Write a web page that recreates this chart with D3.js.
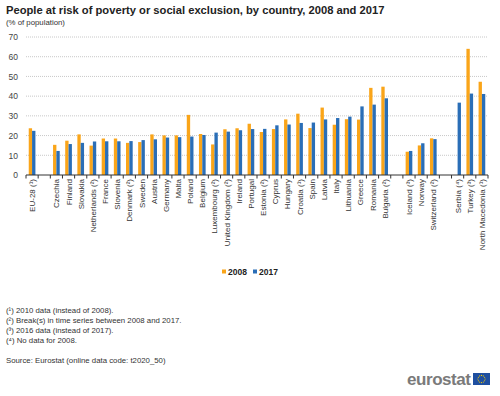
<!DOCTYPE html>
<html>
<head>
<meta charset="utf-8">
<script src="https://cdn.jsdelivr.net/npm/d3@7"></script>
<style>
  body { margin: 0; background: #fff; }
  svg { font-family: Arial, "Liberation Sans", sans-serif; display: block; }
  .grid line { stroke: #c8c8c8; stroke-dasharray: 1,1; }
  .axis--y .domain { display: none; }
  .axis--y .tick line { display: none; }
  .axis text { fill: #444; }
</style>
</head>
<body>
<svg width="500" height="396"></svg>
<script>
// categories (gaps are empty slots)
const countries = ['EU-28 (¹)', 'gap1', 'Czechia', 'Finland', 'Slovakia', 'Netherlands (²)', 'France', 'Slovenia',
  'Denmark (²)', 'Sweden', 'Austria', 'Germany', 'Malta', 'Poland', 'Belgium', 'Luxembourg (²)',
  'United Kingdom (²)', 'Ireland', 'Portugal', 'Estonia (²)', 'Cyprus', 'Hungary', 'Croatia (¹)', 'Spain',
  'Latvia', 'Italy', 'Lithuania', 'Greece', 'Romania', 'Bulgaria (²)', 'gap2', 'Iceland (³)', 'Norway',
  'Switzerland (²)', 'gap3', 'Serbia (⁴)', 'Turkey (³)', 'North Macedonia (¹)'];

const values2008 = [23.7, null, 15.3, 17.4, 20.6, 14.9, 18.5, 18.5,
  16.3, 16.7, 20.6, 20.1, 20.1, 30.5, 20.8, 15.5,
  23.2, 23.7, 26.0, 21.8, 23.3, 28.2, 31.1, 23.8,
  34.2, 25.5, 28.3, 28.1, 44.2, 44.8, null, 11.8, 15.0,
  18.6, null, null, 64.0, 47.3];

const values2017 = [22.4, null, 12.2, 15.7, 16.3, 17.0, 17.1, 17.1,
  17.2, 17.7, 18.1, 19.0, 19.2, 19.5, 20.3, 21.5,
  22.0, 22.7, 23.3, 23.4, 25.2, 25.6, 26.4, 26.6,
  28.2, 28.9, 29.6, 34.8, 35.7, 38.9, null, 12.2, 16.1,
  18.2, null, 36.7, 41.3, 41.1];

const seriesNames = ['2008', '2017'];
const colors = { '2008': '#faa519', '2017': '#2a6eb7' };
const yTicks = [0, 10, 20, 30, 40, 50, 60, 70];

const footnotes = [
  '(¹) 2010 data (instead of 2008).',
  '(²) Break(s) in time series between 2008 and 2017.',
  '(³) 2016 data (instead of 2017).',
  '(⁴) No data for 2008.'
];
const source = 'Source: Eurostat (online data code: t2020_50)';

const svg = d3.select('svg');
const margin = { top: 37, left: 26, right: 12, bottom: 221 };
const width = 500 - margin.left - margin.right;
const height = 396 - margin.top - margin.bottom;

svg.append('text')
  .attr('x', 6).attr('y', 14)
  .attr('font-size', 11.2).attr('font-weight', 'bold').attr('fill', '#222')
  .text('People at risk of poverty or social exclusion, by country, 2008 and 2017');
svg.append('text')
  .attr('x', 6).attr('y', 24.5)
  .attr('font-size', 7.8).attr('fill', '#333')
  .text('(% of population)');

const g = svg.append('g')
  .attr('transform', 'translate(' + margin.left + ',' + margin.top + ')');

const x = d3.scaleBand().domain(countries).range([0, width]).padding(0);
const x1 = d3.scaleBand().domain(seriesNames).range([0, x.bandwidth()]).paddingInner(0).paddingOuter(0.82);
const y = d3.scaleLinear().domain([0, 70]).range([height, 0]);

// grid
g.append('g').attr('class', 'grid')
  .selectAll('line')
  .data(yTicks.filter(d => d > 0))
  .enter().append('line')
  .attr('x1', 0).attr('x2', width)
  .attr('y1', d => y(d)).attr('y2', d => y(d));

g.append('g')
  .attr('class', 'axis axis--y')
  .call(d3.axisLeft(y).tickValues(yTicks).tickSize(0).tickPadding(8))
  .selectAll('text').attr('font-size', 8.5).attr('font-family', 'Arial, "Liberation Sans", sans-serif');

// bars
const data = countries.map((c, i) => ({ c: c, v: { '2008': values2008[i], '2017': values2017[i] } }));
const groups = g.selectAll('.group')
  .data(data)
  .enter().append('g')
  .attr('transform', d => 'translate(' + x(d.c) + ',0)');

groups.selectAll('rect')
  .data(d => seriesNames.filter(s => d.v[s] != null).map(s => ({ s: s, v: d.v[s] })))
  .enter().append('rect')
  .attr('x', d => x1(d.s))
  .attr('y', d => y(d.v))
  .attr('width', x1.bandwidth())
  .attr('height', d => height - y(d.v))
  .attr('fill', d => colors[d.s]);

// x axis with ticks at slot boundaries
const xa = g.append('g').attr('transform', 'translate(0,' + height + ')');
xa.append('line').attr('x1', 0).attr('x2', width).attr('stroke', '#333');
xa.selectAll('.tk')
  .data(d3.range(countries.length + 1))
  .enter().append('line')
  .attr('x1', i => i * x.step()).attr('x2', i => i * x.step())
  .attr('y1', 0).attr('y2', 3.5).attr('stroke', '#333');
xa.selectAll('.lbl')
  .data(countries.filter(c => !c.startsWith('gap')))
  .enter().append('text')
  .attr('transform', d => 'translate(' + (x(d) + x.bandwidth() / 2 + 3) + ',4) rotate(-90)')
  .attr('text-anchor', 'end')
  .attr('font-size', 8).attr('fill', '#333')
  .text(d => d);

// legend
const legend = svg.append('g').attr('transform', 'translate(222,272)');
seriesNames.forEach((s, i) => {
  const lg = legend.append('g').attr('transform', 'translate(' + (i * 31) + ',0)');
  lg.append('rect').attr('x', 0).attr('y', -2.5).attr('width', 4).attr('height', 4).attr('fill', colors[s]);
  lg.append('text').attr('x', 6).attr('y', 3).attr('font-size', 8.5).attr('font-weight', 'bold').attr('fill', '#222').text(s);
});

// footnotes
svg.selectAll('.fn')
  .data(footnotes)
  .enter().append('text')
  .attr('x', 6).attr('y', (d, i) => 312.5 + i * 10)
  .attr('font-size', 7.8).attr('fill', '#333')
  .text(d => d);
svg.append('text')
  .attr('x', 6).attr('y', 362.5)
  .attr('font-size', 7.8).attr('fill', '#333')
  .text(source);

// logo
svg.append('text')
  .attr('x', 407).attr('y', 384.5)
  .attr('font-size', 17).attr('font-weight', 'bold').attr('fill', '#7a7a7a')
  .attr('textLength', 64)
  .text('eurostat');
const flag = svg.append('g').attr('transform', 'translate(473,373)');
flag.append('rect').attr('width', 17).attr('height', 12).attr('fill', '#1f4fa0');
flag.selectAll('circle')
  .data(d3.range(12))
  .enter().append('circle')
  .attr('cx', i => 8.5 + 3.6 * Math.cos(i * Math.PI / 6))
  .attr('cy', i => 6 + 3.6 * Math.sin(i * Math.PI / 6))
  .attr('r', 0.55).attr('fill', '#ffd200');
</script>
</body>
</html>
